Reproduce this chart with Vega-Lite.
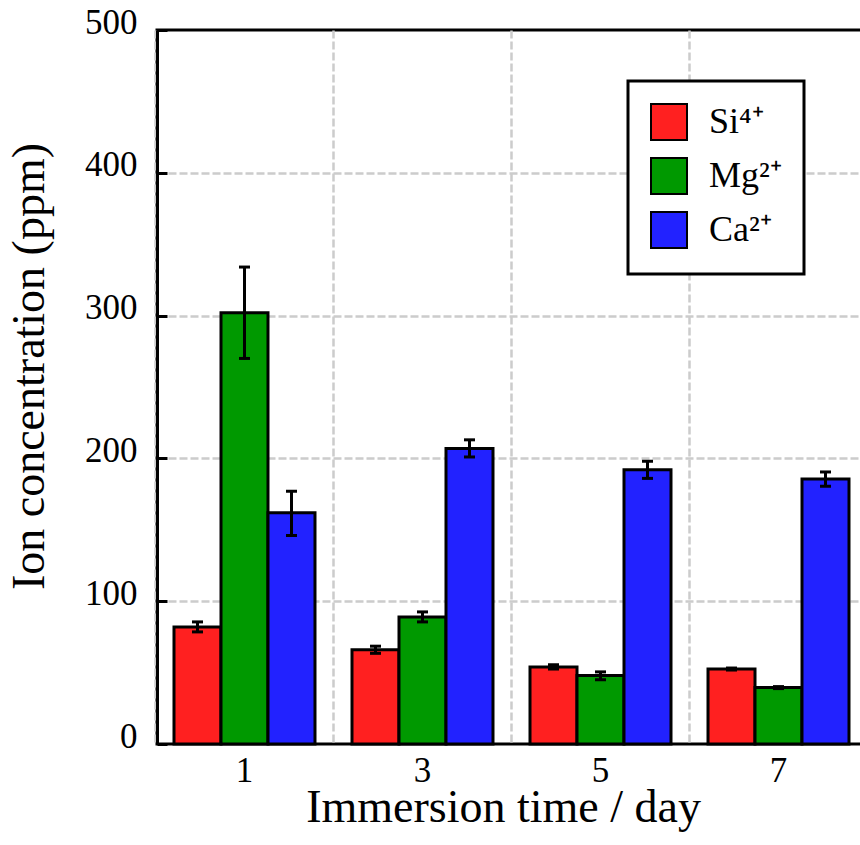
{
  "$schema": "https://vega.github.io/schema/vega-lite/v6.json",
  "width": 709,
  "height": 714,
  "autosize": "none",
  "padding": {"left": 157, "top": 30, "right": 0, "bottom": 101},
  "background": "white",
  "config": {
    "view": {"stroke": "black", "strokeWidth": 3},
    "font": "Liberation Serif",
    "legend": {"strokeWidth": 3}
  },
  "data": {
    "values": [
      {"day": "1", "ion": "Si⁴⁺", "value": 82, "lo": 78.5, "hi": 85.5},
      {"day": "1", "ion": "Mg²⁺", "value": 302, "lo": 270, "hi": 334},
      {"day": "1", "ion": "Ca²⁺", "value": 162, "lo": 146, "hi": 177},
      {"day": "3", "ion": "Si⁴⁺", "value": 66, "lo": 63.5, "hi": 68.5},
      {"day": "3", "ion": "Mg²⁺", "value": 89, "lo": 85.5, "hi": 92.5},
      {"day": "3", "ion": "Ca²⁺", "value": 207, "lo": 201, "hi": 213},
      {"day": "5", "ion": "Si⁴⁺", "value": 54, "lo": 52.5, "hi": 55.5},
      {"day": "5", "ion": "Mg²⁺", "value": 48, "lo": 45, "hi": 50.5},
      {"day": "5", "ion": "Ca²⁺", "value": 192, "lo": 186, "hi": 198},
      {"day": "7", "ion": "Si⁴⁺", "value": 52.5, "lo": 51.8, "hi": 53.2},
      {"day": "7", "ion": "Mg²⁺", "value": 39.5, "lo": 38.8, "hi": 40.2},
      {"day": "7", "ion": "Ca²⁺", "value": 185.5, "lo": 180.5, "hi": 190.5}
    ]
  },
  "encoding": {
    "x": {
      "field": "day",
      "type": "ordinal",
      "scale": {"paddingInner": 0.2079, "paddingOuter": 0.0955},
      "axis": {
        "title": "Immersion time / day",
        "titleFontSize": 46,
        "titleFontWeight": "normal",
        "titleColor": "black",
        "titleBaseline": "alphabetic",
        "titleX": 346,
        "titleY": 77,
        "labelAngle": 0,
        "labelFontSize": 35,
        "labelColor": "black",
        "labelBaseline": "alphabetic",
        "labelPadding": 37,
        "bandPosition": -0.128,
        "ticks": false,
        "domain": false,
        "grid": true,
        "gridColor": "#cccccc",
        "gridWidth": 2.5,
        "gridDash": [8, 3]
      }
    },
    "xOffset": {
      "field": "ion",
      "type": "nominal",
      "sort": ["Si⁴⁺", "Mg²⁺", "Ca²⁺"],
      "scale": {"paddingInner": 0, "paddingOuter": 0}
    }
  },
  "layer": [
    {
      "mark": {"type": "bar", "stroke": "black", "strokeWidth": 3, "opacity": 1},
      "encoding": {
        "y": {
          "field": "value",
          "type": "quantitative",
          "scale": {"domain": [0, 500], "nice": false},
          "axis": {
            "values": [0, 100, 200, 300, 400, 500],
            "title": "Ion concentration (ppm)",
            "titleFontSize": 46,
            "titleFontWeight": "normal",
            "titleColor": "black",
            "titleX": -104,
            "titleY": 336,
            "labelFontSize": 35,
            "labelColor": "black",
            "labelPadding": 30,
            "labelOffset": -8,
            "domainColor": "black",
            "domainWidth": 3,
            "tickColor": "black",
            "tickWidth": 3,
            "tickSize": -10,
            "grid": true,
            "gridColor": "#cccccc",
            "gridOpacity": {"condition": {"test": "datum.value === 500 || datum.value === 0", "value": 0}, "value": 1},
            "gridWidth": 2.5,
            "gridDash": [8, 3]
          }
        },
        "color": {
          "field": "ion",
          "type": "nominal",
          "scale": {
            "domain": ["Si⁴⁺", "Mg²⁺", "Ca²⁺"],
            "range": ["#ff2020", "#009900", "#2222ff"]
          },
          "legend": {
            "orient": "none",
            "legendX": 471,
            "legendY": 51,
            "title": null,
            "direction": "vertical",
            "fillColor": "white",
            "strokeColor": "black",
            "padding": 22,
            "symbolType": "square",
            "symbolSize": 1296,
            "symbolStrokeColor": "black",
            "symbolStrokeWidth": 2,
            "symbolOpacity": 1,
            "labelFontSize": 36,
            "labelColor": "black",
            "labelOffset": 21,
            "labelLimit": 300,
            "rowPadding": 10
          }
        }
      }
    },
    {
      "mark": {"type": "rule", "color": "black", "strokeWidth": 3},
      "encoding": {
        "y": {"field": "lo", "type": "quantitative"},
        "y2": {"field": "hi"}
      }
    },
    {
      "mark": {"type": "tick", "color": "black", "thickness": 3, "size": 11, "opacity": 1},
      "encoding": {"y": {"field": "lo", "type": "quantitative"}}
    },
    {
      "mark": {"type": "tick", "color": "black", "thickness": 3, "size": 11, "opacity": 1},
      "encoding": {"y": {"field": "hi", "type": "quantitative"}}
    }
  ]
}
